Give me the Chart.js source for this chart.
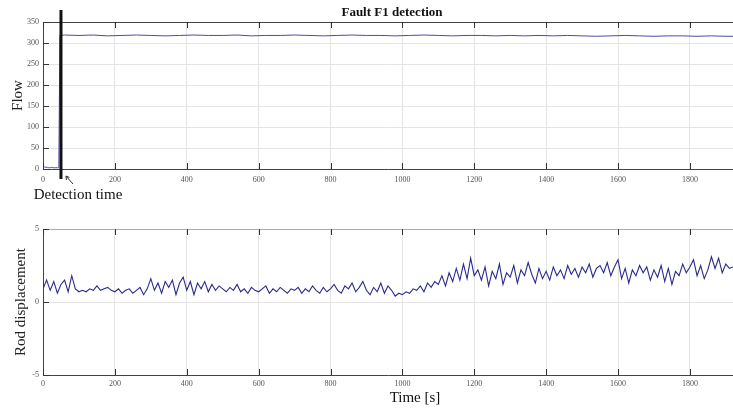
<!DOCTYPE html>
<html lang="en">
<head>
<meta charset="UTF-8">
<title>Fault F1 detection</title>
<script src="https://cdn.jsdelivr.net/npm/chart.js"></script>
<style>
  body { margin: 0; background: #fff; }
  #wrap { position: relative; width: 733px; height: 410px; overflow: hidden; }
  #flowChart { position: absolute; left: 0; top: 0; }
  #rodChart { position: absolute; left: 0; top: 210px; }
</style>
</head>
<body>
<div id="wrap">
  <canvas id="flowChart" width="733" height="210"></canvas>
  <canvas id="rodChart" width="733" height="200"></canvas>
</div>
<script>
// ---- data ----
const flowTime = [0, 4, 8, 12, 16, 20, 24, 28, 32, 36, 40, 44, 47,
  60, 100, 140, 180, 220, 260, 300, 340, 380, 420, 460, 500, 540, 580, 620, 660,
  700, 740, 780, 820, 860, 900, 940, 980, 1020, 1060, 1100, 1140, 1180, 1220, 1260,
  1300, 1340, 1380, 1420, 1460, 1500, 1540, 1580, 1620, 1660, 1700, 1740, 1780,
  1820, 1860, 1900, 1920];
const flowValues = [2, 5, 4, 4, 3, 3, 4, 3, 3, 3, 3, 3, 318,
  319, 318, 319, 317, 318, 319, 318, 317, 318, 319, 318, 318, 319, 317, 318, 318,
  319, 318, 317, 318, 319, 318, 318, 317, 318, 319, 318, 317, 318, 318, 317,
  318, 317, 318, 317, 318, 317, 316, 317, 318, 317, 316, 317, 317,
  316, 317, 316, 316];

// rod displacement, one sample every 10 s from t = 0
const rodStep = 10;
const rodValues = [
  0.9, 1.5, 0.8, 1.4, 0.6, 1.2, 1.5, 0.7, 1.8, 0.9,
  0.7, 0.8, 0.7, 0.9, 0.8, 1.1, 0.8, 0.9, 1.0, 0.8,
  0.7, 0.9, 0.6, 0.8, 0.9, 0.6, 0.8, 1.0, 0.5, 0.9,
  1.6, 0.8, 1.3, 0.6, 1.4, 1.0, 1.5, 0.5, 1.3, 1.7,
  0.8, 1.4, 0.5, 1.3, 0.9, 1.4, 0.7, 1.2, 0.8, 1.1,
  0.9, 0.7, 1.0, 0.8, 1.2, 0.7, 0.9, 0.6, 1.0, 0.8,
  0.7, 0.9, 1.1, 0.6, 0.9, 0.7, 1.0, 0.8, 0.6, 0.9,
  0.8, 1.0, 0.6, 0.9, 0.7, 1.1, 0.8, 0.6, 1.0, 0.7,
  0.9, 1.2, 0.8, 0.6, 1.1, 0.9, 1.3, 0.7, 1.0, 1.4,
  0.8, 0.5, 1.0, 0.7, 1.3, 0.6, 1.1, 0.8, 0.4, 0.6,
  0.5, 0.7, 0.6, 0.9, 0.8, 1.1, 0.7, 1.3, 1.0, 1.4,
  1.2, 1.8, 1.1, 2.0, 1.4, 2.3, 1.5, 2.6, 1.6, 3.0,
  1.8, 2.2, 1.5, 2.4, 1.1, 2.1, 1.6, 2.6, 1.2, 2.0,
  1.7, 2.5, 1.3, 2.2, 1.8, 2.7, 1.9, 1.3, 2.3, 1.6,
  2.1, 1.5, 2.4, 1.8, 2.2, 1.6, 2.5, 1.9, 2.3, 1.7,
  2.4, 2.0, 2.6, 1.7, 2.3, 2.5, 2.0, 2.7, 1.8, 2.4,
  2.9, 1.6, 2.3, 1.3, 2.2, 1.8, 2.5, 2.0, 2.4, 1.5,
  2.2, 1.7, 2.5, 1.4, 2.3, 1.2, 2.1, 1.8, 2.6, 2.0,
  2.4, 2.9, 1.8, 2.5, 1.6, 2.2, 3.1, 2.3, 3.0, 2.0,
  2.6, 2.3, 2.4];

const xTicks = [0, 200, 400, 600, 800, 1000, 1200, 1400, 1600, 1800];
const flowTicks = [0, 50, 100, 150, 200, 250, 300, 350];
const rodTicks = [-5, 0, 5];
const detectionTime = 50;

Chart.defaults.font.family = 'Liberation Serif';
Chart.defaults.color = '#555';

// MATLAB style box: dark top edge and inward tick marks
const matlabFrame = {
  id: 'matlabFrame',
  afterDraw(chart, args, opts) {
    const { ctx, chartArea: a, scales: { x, y } } = chart;
    ctx.save();
    ctx.strokeStyle = opts.topColor || '#444';
    ctx.lineWidth = 1;
    ctx.beginPath();
    ctx.moveTo(a.left, a.top + 0.5);
    ctx.lineTo(a.right, a.top + 0.5);
    ctx.stroke();
    ctx.strokeStyle = '#333';
    ctx.beginPath();
    x.ticks.forEach(t => {
      const px = Math.round(x.getPixelForValue(t.value)) + 0.5;
      ctx.moveTo(px, a.bottom);
      ctx.lineTo(px, a.bottom - 6);
      ctx.moveTo(px, a.top);
      ctx.lineTo(px, a.top + 6);
    });
    y.ticks.forEach(t => {
      const py = Math.round(y.getPixelForValue(t.value)) + 0.5;
      ctx.moveTo(a.left, py);
      ctx.lineTo(a.left + 6, py);
    });
    ctx.stroke();
    ctx.restore();
  }
};

// extra texts drawn at fixed spots
const labels = {
  id: 'labels',
  afterDraw(chart, args, opts) {
    const ctx = chart.ctx;
    ctx.save();
    (opts.items || []).forEach(it => {
      ctx.font = it.font;
      ctx.fillStyle = '#111';
      ctx.textAlign = 'center';
      ctx.textBaseline = 'middle';
      ctx.fillText(it.text, it.x, it.y);
    });
    ctx.restore();
  }
};

// thick detection marker and arrow
const detectionMark = {
  id: 'detectionMark',
  afterDraw(chart) {
    const { ctx, chartArea: a, scales: { x } } = chart;
    const px = x.getPixelForValue(detectionTime);
    ctx.save();
    ctx.strokeStyle = '#111';
    ctx.lineWidth = 3;
    ctx.beginPath();
    ctx.moveTo(px, 10);
    ctx.lineTo(px, a.bottom + 10);
    ctx.stroke();
    // arrow
    ctx.lineWidth = 1;
    ctx.strokeStyle = '#333';
    ctx.beginPath();
    ctx.moveTo(px + 12, a.bottom + 15);
    ctx.lineTo(px + 5, a.bottom + 7);
    ctx.moveTo(px + 5, a.bottom + 7);
    ctx.lineTo(px + 5.5, a.bottom + 11);
    ctx.moveTo(px + 5, a.bottom + 7);
    ctx.lineTo(px + 8.5, a.bottom + 8.5);
    ctx.stroke();
    ctx.restore();
  }
};

function xScale(height, pad) {
  return {
    type: 'linear',
    min: 0,
    max: 1920,
    afterBuildTicks: s => { s.ticks = xTicks.map(v => ({ value: v })); },
    afterFit: s => { s.height = height; },
    ticks: { font: { size: 8 }, padding: pad, maxRotation: 0, color: '#555', callback: v => String(v) },
    grid: { color: '#e4e4e4', drawTicks: false },
    border: { color: '#444' }
  };
}

function yScale(min, max, ticks, title, titlePad) {
  return {
    min: min,
    max: max,
    afterBuildTicks: s => { s.ticks = ticks.map(v => ({ value: v })); },
    afterFit: s => { s.width = 43; },
    ticks: { font: { size: 8 }, padding: 4, color: '#555', callback: v => String(v) },
    grid: { color: '#e4e4e4', drawTicks: false },
    border: { color: '#444' },
    title: { display: true, text: title, color: '#222', font: { size: 15 }, padding: { top: titlePad, bottom: 0 } }
  };
}

new Chart(document.getElementById('flowChart'), {
  type: 'line',
  data: {
    datasets: [{
      data: flowTime.map((t, i) => ({ x: t, y: flowValues[i] })),
      borderColor: '#4a4aa8',
      borderWidth: 1,
      pointRadius: 0,
      tension: 0
    }]
  },
  options: {
    responsive: false,
    animation: false,
    devicePixelRatio: 1,
    layout: { padding: { top: 22, right: 0, left: 0, bottom: 0 } },
    scales: {
      x: xScale(41, 6),
      y: yScale(0, 350, flowTicks, 'Flow', 9)
    },
    plugins: {
      legend: { display: false },
      tooltip: { enabled: false },
      matlabFrame: { topColor: '#444' },
      labels: {
        items: [
          { text: 'Fault F1 detection', x: 392, y: 13, font: 'bold 13px "Liberation Serif"' },
          { text: 'Detection time', x: 78, y: 195, font: '15px "Liberation Serif"' }
        ]
      }
    }
  },
  plugins: [matlabFrame, labels, detectionMark]
});

new Chart(document.getElementById('rodChart'), {
  type: 'line',
  data: {
    datasets: [{
      data: rodValues.map((v, i) => ({ x: i * rodStep, y: v })),
      borderColor: '#2a2a8e',
      borderWidth: 1.1,
      pointRadius: 0,
      tension: 0
    }]
  },
  options: {
    responsive: false,
    animation: false,
    devicePixelRatio: 1,
    layout: { padding: { top: 19, right: 0, left: 0, bottom: 0 } },
    scales: {
      x: xScale(35, 4),
      y: yScale(-5, 5, rodTicks, 'Rod displacement', 12)
    },
    plugins: {
      legend: { display: false },
      tooltip: { enabled: false },
      matlabFrame: { topColor: '#aaa' },
      labels: {
        items: [
          { text: 'Time [s]', x: 415, y: 188, font: '15px "Liberation Serif"' }
        ]
      }
    }
  },
  plugins: [matlabFrame, labels]
});
</script>
</body>
</html>
